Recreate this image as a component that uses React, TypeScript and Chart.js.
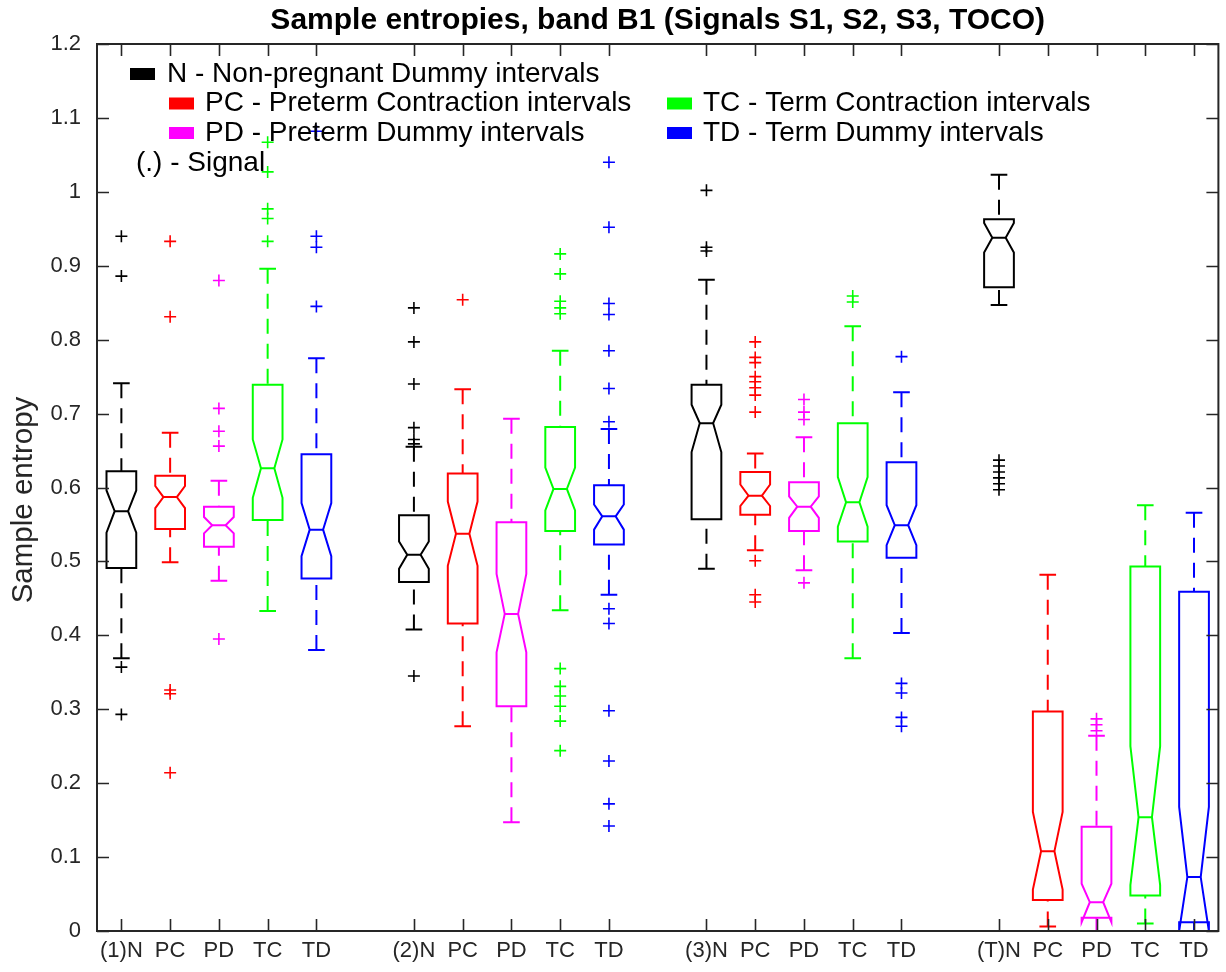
import React, { useEffect, useRef } from "react";
import { Chart, registerables } from "chart.js";

Chart.register(...registerables);

// ---------- data ----------
const TITLE = "Sample entropies, band B1 (Signals S1, S2, S3, TOCO)";
const Y_LABEL = "Sample entropy";

const positions = [1, 2, 3, 4, 5, 7, 8, 9, 10, 11, 13, 14, 15, 16, 17, 19, 20, 21, 22, 23];
const tickLabels = [
  "(1)N", "PC", "PD", "TC", "TD",
  "(2)N", "PC", "PD", "TC", "TD",
  "(3)N", "PC", "PD", "TC", "TD",
  "(T)N", "PC", "PD", "TC", "TD",
];
const boxColors = [
  "#000000", "#ff0000", "#ff00ff", "#00ff00", "#0000ff",
  "#000000", "#ff0000", "#ff00ff", "#00ff00", "#0000ff",
  "#000000", "#ff0000", "#ff00ff", "#00ff00", "#0000ff",
  "#000000", "#ff0000", "#ff00ff", "#00ff00", "#0000ff",
];

const whiskerHi = [0.741, 0.674, 0.609, 0.896, 0.775, 0.655, 0.733, 0.693, 0.785, 0.679, 0.881, 0.646, 0.668, 0.818, 0.729, 1.023, 0.482, 0.264, 0.576, 0.566];
const q3Values = [0.622, 0.616, 0.574, 0.739, 0.645, 0.5625, 0.619, 0.553, 0.682, 0.603, 0.739, 0.621, 0.607, 0.687, 0.634, 0.963, 0.297, 0.141, 0.493, 0.459];
const notchHi = [0.596, 0.602, 0.56, 0.665, 0.579, 0.527, 0.581, 0.483, 0.627, 0.577, 0.712, 0.604, 0.588, 0.614, 0.576, 0.958, 0.161, 0.064, 0.25, 0.168];
const medians = [0.568, 0.587, 0.549, 0.626, 0.543, 0.509, 0.5375, 0.429, 0.598, 0.561, 0.687, 0.589, 0.574, 0.58, 0.549, 0.938, 0.108, 0.039, 0.154, 0.073];
const notchLo = [0.539, 0.572, 0.538, 0.586, 0.507, 0.49, 0.494, 0.377, 0.569, 0.543, 0.648, 0.575, 0.559, 0.547, 0.522, 0.918, 0.056, 0.012, 0.062, 0.0];
const q1Values = [0.491, 0.544, 0.52, 0.556, 0.477, 0.472, 0.416, 0.304, 0.541, 0.523, 0.557, 0.563, 0.541, 0.527, 0.505, 0.871, 0.042, 0.018, 0.048, 0.012];
const whiskerLo = [0.369, 0.499, 0.474, 0.433, 0.38, 0.408, 0.277, 0.147, 0.434, 0.455, 0.49, 0.515, 0.488, 0.369, 0.403, 0.847, 0.006, 0.0, 0.01, 0.0];

const outliers: number[][] = [
  [0.94, 0.886, 0.357, 0.293],
  [0.933, 0.831, 0.326, 0.321, 0.214],
  [0.88, 0.707, 0.676, 0.656, 0.395],
  [1.067, 1.027, 0.977, 0.964, 0.933],
  [1.082, 0.94, 0.925, 0.845],
  [0.843, 0.797, 0.74, 0.681, 0.665, 0.659, 0.345],
  [0.854],
  [],
  [0.916, 0.889, 0.852, 0.843, 0.835, 0.355, 0.331, 0.318, 0.304, 0.284, 0.244],
  [1.04, 0.952, 0.849, 0.834, 0.785, 0.734, 0.689, 0.436, 0.416, 0.298, 0.23, 0.172, 0.142],
  [1.002, 0.925, 0.92],
  [0.797, 0.776, 0.769, 0.75, 0.743, 0.735, 0.725, 0.702, 0.501, 0.455, 0.445],
  [0.719, 0.702, 0.692, 0.471],
  [0.859, 0.851],
  [0.777, 0.335, 0.322, 0.289, 0.277],
  [0.637, 0.629, 0.621, 0.613, 0.605, 0.597],
  [],
  [0.287, 0.279, 0.271],
  [],
  [],
];

const legendRows = [
  { color: "#000000", text: "N - Non-pregnant Dummy intervals" },
  { color: "#ff0000", text: "PC - Preterm Contraction intervals" },
  { color: "#ff00ff", text: "PD - Preterm Dummy intervals" },
  { color: "#00ff00", text: "TC - Term Contraction intervals" },
  { color: "#0000ff", text: "TD - Term Dummy intervals" },
];
const legendNote = "(.) - Signal";

// ---------- styling ----------
const FONT = "'Liberation Sans', Arial, Helvetica, sans-serif";
const AXIS_COLOR = "#262626";
const BOX_HALF = 0.305;

const boxPlugin = {
  id: "notchedBoxes",
  afterDatasetsDraw(chart: any) {
    const ctx = chart.ctx;
    const xs = chart.scales.x;
    const ys = chart.scales.y;
    const Y = (v: number) => ys.getPixelForValue(v);
    ctx.save();
    const ca = chart.chartArea;
    ctx.beginPath();
    ctx.rect(ca.left, ca.top - 2, ca.right - ca.left, ca.bottom - ca.top + 4);
    ctx.clip();
    for (let i = 0; i < positions.length; i++) {
      const cx = xs.getPixelForValue(positions[i]);
      const hw = xs.getPixelForValue(positions[i] + BOX_HALF) - cx;
      const nw = hw * 0.45;
      const cw = hw * 0.56;
      ctx.strokeStyle = boxColors[i];
      ctx.lineWidth = 2;
      ctx.lineJoin = "miter";
      ctx.setLineDash([]);
      ctx.beginPath();
      ctx.moveTo(cx - hw, Y(q1Values[i]));
      ctx.lineTo(cx - hw, Y(notchLo[i]));
      ctx.lineTo(cx - nw, Y(medians[i]));
      ctx.lineTo(cx - hw, Y(notchHi[i]));
      ctx.lineTo(cx - hw, Y(q3Values[i]));
      ctx.lineTo(cx + hw, Y(q3Values[i]));
      ctx.lineTo(cx + hw, Y(notchHi[i]));
      ctx.lineTo(cx + nw, Y(medians[i]));
      ctx.lineTo(cx + hw, Y(notchLo[i]));
      ctx.lineTo(cx + hw, Y(q1Values[i]));
      ctx.closePath();
      ctx.stroke();
      // median
      ctx.beginPath();
      ctx.moveTo(cx - nw, Y(medians[i]));
      ctx.lineTo(cx + nw, Y(medians[i]));
      ctx.stroke();
      // whiskers (dashed)
      ctx.setLineDash([15, 10]);
      ctx.beginPath();
      ctx.moveTo(cx, Y(whiskerHi[i]));
      ctx.lineTo(cx, Y(q3Values[i]));
      ctx.moveTo(cx, Y(whiskerLo[i]));
      ctx.lineTo(cx, Y(q1Values[i]));
      ctx.stroke();
      ctx.setLineDash([]);
      // caps
      ctx.beginPath();
      ctx.moveTo(cx - cw, Y(whiskerHi[i]));
      ctx.lineTo(cx + cw, Y(whiskerHi[i]));
      ctx.moveTo(cx - cw, Y(whiskerLo[i]));
      ctx.lineTo(cx + cw, Y(whiskerLo[i]));
      ctx.stroke();
    }
    ctx.restore();
  },
  afterDraw(chart: any) {
    const ctx = chart.ctx;
    const xs = chart.scales.x;
    const ys = chart.scales.y;
    const ca = chart.chartArea;
    ctx.save();
    // frame
    ctx.strokeStyle = AXIS_COLOR;
    ctx.lineWidth = 2;
    ctx.strokeRect(ca.left, ca.top, ca.right - ca.left, ca.bottom - ca.top);
    // inward ticks
    const TL = 12;
    ctx.lineWidth = 1.6;
    ctx.beginPath();
    for (const t of ys.ticks) {
      const y = Math.round(ys.getPixelForValue(t.value)) + 0.5;
      ctx.moveTo(ca.left, y);
      ctx.lineTo(ca.left + TL, y);
      ctx.moveTo(ca.right, y);
      ctx.lineTo(ca.right - TL, y);
    }
    for (const p of positions) {
      const x = Math.round(xs.getPixelForValue(p)) + 0.5;
      ctx.moveTo(x, ca.bottom);
      ctx.lineTo(x, ca.bottom - TL);
      ctx.moveTo(x, ca.top);
      ctx.lineTo(x, ca.top + TL);
    }
    ctx.stroke();

    // y-axis label
    ctx.fillStyle = AXIS_COLOR;
    ctx.font = `29.5px ${FONT}`;
    ctx.textAlign = "center";
    ctx.textBaseline = "middle";
    ctx.save();
    ctx.translate(24, 500);
    ctx.rotate(-Math.PI / 2);
    ctx.fillText(Y_LABEL, 0, 0);
    ctx.restore();

    // legend
    ctx.font = `28px ${FONT}`;
    ctx.textAlign = "left";
    ctx.textBaseline = "middle";
    const items = [
      { row: legendRows[0], rx: 130, tx: 167, y: 74 },
      { row: legendRows[1], rx: 169, tx: 205, y: 103.5 },
      { row: legendRows[2], rx: 169, tx: 205, y: 133 },
      { row: legendRows[3], rx: 667, tx: 703, y: 103.5 },
      { row: legendRows[4], rx: 667, tx: 703, y: 133 },
    ];
    for (const it of items) {
      ctx.fillStyle = it.row.color;
      ctx.fillRect(it.rx, it.y - 6, 25, 12);
      ctx.fillStyle = "#000000";
      ctx.fillText(it.row.text, it.tx, it.y);
    }
    ctx.fillStyle = "#000000";
    ctx.fillText(legendNote, 136, 163);
    ctx.restore();
  },
};

export default function App() {
  const canvasRef = useRef<HTMLCanvasElement | null>(null);

  useEffect(() => {
    const canvas = canvasRef.current;
    if (!canvas) return;
    const datasets = positions.map((p, i) => ({
      label: tickLabels[i],
      data: outliers[i].map((v) => ({ x: p, y: v })),
      pointStyle: "cross",
      pointRadius: 6,
      pointHoverRadius: 6,
      borderWidth: 1.6,
      borderColor: boxColors[i],
      backgroundColor: boxColors[i],
      showLine: false,
    }));
    const chart = new Chart(canvas, {
      type: "scatter",
      data: { datasets } as any,
      options: {
        responsive: false,
        animation: false,
        layout: { padding: { left: 0, right: 6, top: 0, bottom: 0 } },
        plugins: {
          legend: { display: false },
          tooltip: { enabled: false },
          title: {
            display: true,
            text: TITLE,
            fullSize: false,
            color: "#000000",
            font: { family: FONT, size: 30, weight: "bold" },
            padding: { top: 3, bottom: 5 },
          },
        },
        scales: {
          x: {
            type: "linear",
            min: 0.5,
            max: 23.5,
            afterBuildTicks: (s: any) => {
              s.ticks = positions.map((v) => ({ value: v }));
            },
            afterFit: (s: any) => {
              s.height = 41;
            },
            ticks: {
              autoSkip: false,
              maxRotation: 0,
              minRotation: 0,
              padding: 7,
              color: AXIS_COLOR,
              font: { family: FONT, size: 22 },
              callback: (v: any) => {
                const idx = positions.findIndex((p) => Math.abs(p - Number(v)) < 1e-6);
                return idx >= 0 ? tickLabels[idx] : "";
              },
            },
            grid: { display: false, drawTicks: false },
            border: { display: false },
          },
          y: {
            min: 0,
            max: 1.2,
            afterFit: (s: any) => {
              s.width = 97;
            },
            ticks: {
              stepSize: 0.1,
              padding: 16,
              color: AXIS_COLOR,
              font: { family: FONT, size: 22 },
              callback: (v: any) => String(Math.round(Number(v) * 10) / 10),
            },
            grid: { display: false, drawTicks: false },
            border: { display: false },
          },
        },
      } as any,
      plugins: [boxPlugin],
    });
    return () => chart.destroy();
  }, []);

  return (
    <div style={{ position: "absolute", left: 0, top: 0, width: 1226, height: 972, background: "#fff" }}>
      <canvas ref={canvasRef} width={1226} height={972} style={{ width: 1226, height: 972, display: "block" }} />
    </div>
  );
}
